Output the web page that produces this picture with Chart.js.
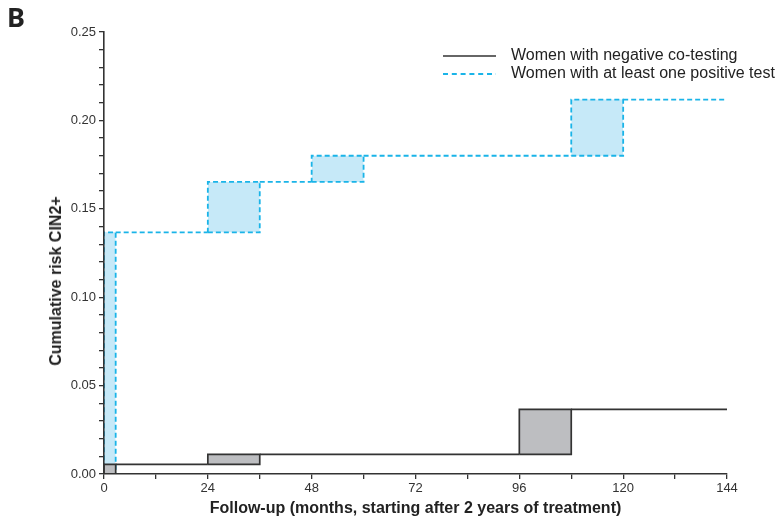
<!DOCTYPE html>
<html>
<head>
<meta charset="utf-8">
<script src="https://cdn.jsdelivr.net/npm/chart.js@4.4.1/dist/chart.umd.min.js"></script>
<style>
  html, body { margin: 0; padding: 0; background: #fff; }
  #wrap { position: relative; width: 782px; height: 519px; font-family: "Liberation Sans", Arial, sans-serif; color: #222; }
  #panel { position: absolute; left: 7px; top: 3px; font: bold 27px/1 "Noto Sans", sans-serif; color: #222; }
  #ytitle { position: absolute; left: 55.5px; top: 281px; transform: translate(-50%, -50%) rotate(-90deg);
            font-weight: bold; font-size: 16px; white-space: nowrap; color: #222; }
  .leg-line { position: absolute; left: 443px; width: 54px; height: 4px; }
  .leg-text { position: absolute; left: 511px; font-size: 16px; line-height: 18px; white-space: nowrap; color: #222; }
</style>
</head>
<body>
<div id="wrap">
  <canvas id="chart" width="782" height="519"></canvas>
  <div id="panel">B</div>
  <div id="ytitle">Cumulative risk CIN2+</div>
  <svg class="leg-line" style="top:53.7px"><line x1="0" y1="2" x2="53" y2="2" stroke="#333" stroke-width="1.7"/></svg>
  <div class="leg-text" style="top:46px">Women with negative co-testing</div>
  <svg class="leg-line" style="top:71.7px"><line x1="0" y1="2" x2="53" y2="2" stroke="#1ab4e8" stroke-width="1.8" stroke-dasharray="5 3.8"/></svg>
  <div class="leg-text" style="top:64px">Women with at least one positive test</div>
</div>
<script>
// interval-censored step boxes: start/end month, risk before/after the step
const negStart = [0, 24, 96];
const negEnd   = [2.7, 36, 108];
const negLow   = [0, 0.0054, 0.0111];
const negHigh  = [0.0054, 0.0111, 0.0366];

const posStart = [0, 24, 48, 108];
const posEnd   = [2.7, 36, 60, 120];
const posLow   = [0, 0.1367, 0.1652, 0.1800];
const posHigh  = [0.1367, 0.1652, 0.1800, 0.2118];

const followUpEnd = 144;
const xTickStep = 12, xLabelStep = 24;
const yTickStep = 0.01;

const NEG_LINE = '#333333', NEG_FILL = '#bdbec1';
const POS_LINE = '#1ab4e8', POS_FILL = '#c6e9f8';
const DASH = [5, 3];

// horizontal pieces between boxes (and after the last one)
function connectors(start, end, high) {
  const pts = [];
  high.forEach((h, i) => {
    const x1 = i + 1 < start.length ? start[i + 1] : followUpEnd;
    pts.push({ x: end[i], y: h }, { x: x1, y: h }, { x: x1, y: null });
  });
  return pts;
}

function boxFills(start, end, low, high, color) {
  return start.map((s, i) => ({
    data: [{ x: s, y: high[i] }, { x: end[i], y: high[i] }],
    fill: { value: low[i] },
    backgroundColor: color,
    borderWidth: 0,
    pointRadius: 0,
  }));
}

function boxEdges(start, end, low, high, color, width, dash) {
  return start.map((s, i) => ({
    data: [
      { x: s, y: low[i] }, { x: end[i], y: low[i] }, { x: end[i], y: high[i] },
      { x: s, y: high[i] }, { x: s, y: low[i] },
    ],
    fill: false,
    borderColor: color,
    borderWidth: width,
    borderDash: dash,
    pointRadius: 0,
  }));
}

// first dataset is drawn on top
const datasets = [
  { data: connectors(negStart, negEnd, negHigh), borderColor: NEG_LINE, borderWidth: 1.7, pointRadius: 0, fill: false, spanGaps: false },
  ...boxEdges(negStart, negEnd, negLow, negHigh, NEG_LINE, 1.7, []),
  ...boxFills(negStart, negEnd, negLow, negHigh, NEG_FILL),
  { data: connectors(posStart, posEnd, posHigh), borderColor: POS_LINE, borderWidth: 1.8, borderDash: DASH, pointRadius: 0, fill: false, spanGaps: false },
  ...boxEdges(posStart, posEnd, posLow, posHigh, POS_LINE, 1.8, DASH),
  ...boxFills(posStart, posEnd, posLow, posHigh, POS_FILL),
];

const tickFont = { family: '"Liberation Sans", Arial, sans-serif', size: 13 };

new Chart(document.getElementById('chart'), {
  type: 'line',
  data: { datasets },
  options: {
    responsive: false,
    animation: false,
    layout: { padding: { left: 0, right: 55, top: 32, bottom: 0 } },
    plugins: { legend: { display: false }, tooltip: { enabled: false } },
    elements: { line: { tension: 0, borderCapStyle: 'butt' } },
    scales: {
      x: {
        type: 'linear',
        min: 0, max: followUpEnd,
        afterFit: s => { s.height = 45; },
        grid: { drawOnChartArea: false, tickLength: 5, color: '#333', lineWidth: 1.3, z: 1 },
        border: { color: '#333', width: 1.6, z: 1 },
        ticks: {
          stepSize: xTickStep, autoSkip: false, maxRotation: 0, padding: 2, z: 1,
          color: '#333', font: tickFont,
          callback: v => (v % xLabelStep === 0 ? v : ''),
        },
        title: {
          display: true,
          text: 'Follow-up (months, starting after 2 years of treatment)',
          color: '#222',
          font: { family: '"Liberation Sans", Arial, sans-serif', size: 16, weight: 'bold' },
          padding: { top: 0, bottom: 1 },
        },
      },
      y: {
        min: 0, max: 0.25,
        afterFit: s => { s.width = 104; },
        grid: { drawOnChartArea: false, tickLength: 5, color: '#333', lineWidth: 1.3, z: 1 },
        border: { color: '#333', width: 1.6, z: 1 },
        ticks: {
          stepSize: yTickStep, autoSkip: false, padding: 3, z: 1,
          color: '#333', font: tickFont,
          callback: v => (Math.round(v * 100) % 5 === 0 ? v.toFixed(2) : ''),
        },
      },
    },
  },
});
</script>
</body>
</html>
